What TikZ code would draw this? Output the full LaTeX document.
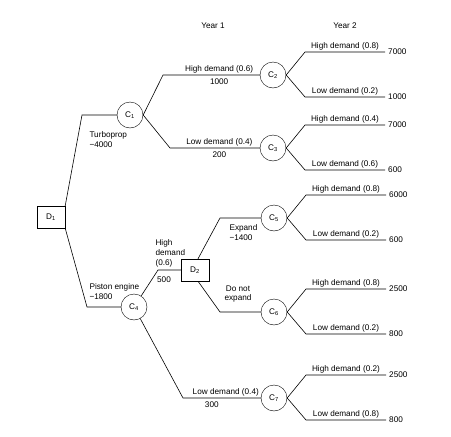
\documentclass[tikz,border=0pt]{standalone}
\usepackage{fontspec}
\setmainfont{Liberation Sans}
\usetikzlibrary{calc,positioning}

\begin{document}
\begin{tikzpicture}[x=1pt, y=-1pt,
  every node/.style={font=\fontsize{8.2}{10}\selectfont},
  dec/.style={draw, rectangle, minimum width=28pt, minimum height=22pt, inner sep=0pt},
  chance/.style={draw, circle, minimum size=26pt, inner sep=0pt},
  lbl/.style={midway, above, inner sep=2pt},
  val/.style={anchor=west, inner sep=3pt},
  br/.style={line width=0.6pt}
]
\useasboundingbox (0,0) rectangle (451,437);

% decision and chance nodes
\node[dec] (d1) at (51,217) {D\textsubscript{1}};
\node[chance] (c1) at (130,115) {C\textsubscript{1}};
\node[chance] (c4) at (134,307) {C\textsubscript{4}};
\node[chance] (c2) at (273,75) {C\textsubscript{2}};
\node[chance] (c3) at (273,148) {C\textsubscript{3}};
\node[dec] (d2) at (195,270) {D\textsubscript{2}};
\node[chance] (c5) at (274,218) {C\textsubscript{5}};
\node[chance] (c6) at (274,312) {C\textsubscript{6}};
\node[chance] (c7) at (274,398) {C\textsubscript{7}};

\node (y1) at (213,26) {Year 1};
\node (y2) at (345,26) {Year 2};

% bends
\coordinate (tp) at (82,115);
\coordinate (pe) at (87,307);
\coordinate (c1h) at (163,75);
\coordinate (c1l) at (170,148);
\coordinate (c4h) at (158,270);
\coordinate (c4l) at (183,398);
\coordinate (d2e) at (220,218);
\coordinate (d2n) at (220,312);

\draw[br] (d1.north east) -- (tp) -- (c1);
\draw[br] (d1.south east) -- (pe) -- (c4);
\node[anchor=north west, align=left] (tl) at (86,128) {Turboprop\\−4000};
\node[anchor=south west, align=left] (pl) at (86,303) {Piston engine\\−1800};

\draw[br] (c1.east) -- (c1h) -- node[lbl, pos=.58] (c1hl) {High demand (0.6)} node[below, pos=.58] (c1hv) {1000} (c2);
\draw[br] (c1.east) -- (c1l) -- node[lbl, pos=.55] (c1ll) {Low demand (0.4)} node[below, pos=.55] (c1lv) {200} (c3);

\draw[br] (c4) -- (c4h) -- (d2);
\node[anchor=south west, align=left] (c4hl) at (152,271) {High\\demand\\(0.6)};
\node (c4hv) at (164,280) {500};
\draw[br] (c4) -- (c4l) -- node[lbl, pos=.55] (c4ll) {Low demand (0.4)} node[below, pos=.37] (c4lv) {300} (c7);

\draw[br] (d2.75) -- (d2e) -- (c5);
\draw[br] (d2.-75) -- (d2n) -- (c6);
\node[anchor=north west, align=left] (ex) at (226,221) {Expand\\−1400};
\node[anchor=south, align=center, font=\fontsize{8.2}{9}\selectfont] (dn) at (238,306) {Do not\\expand};

% year 2 branches
\foreach \n/\hp/\hv/\lp/\lv in {c2/0.8/7000/0.2/1000, c3/0.4/7000/0.6/600,
    c5/0.8/6000/0.2/600, c6/0.8/2500/0.2/800, c7/0.2/2500/0.8/800}{
  \coordinate (\n h) at ($(\n)+(32,-23)$);
  \coordinate (\n l) at ($(\n)+(32,22)$);
  \node[val] (\n hv) at ($(\n)+(112,-23)$) {\hv};
  \node[val] (\n lv) at ($(\n)+(112,22)$) {\lv};
  \draw[br] (\n.east) -- (\n h) -- node[lbl] (\n hl) {High demand (\hp)} (\n hv);
  \draw[br] (\n.east) -- (\n l) -- node[lbl] (\n ll) {Low demand (\lp)} (\n lv);
}
\end{tikzpicture}
\end{document}
